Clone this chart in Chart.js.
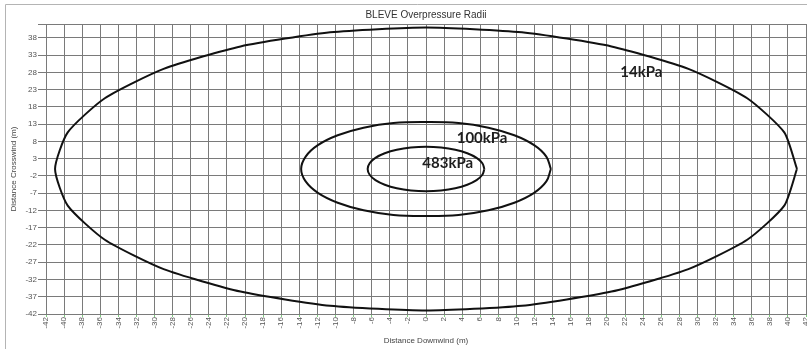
<!DOCTYPE html>
<html>
<head>
<meta charset="utf-8">
<title>BLEVE Overpressure Radii</title>
<script src="https://cdn.jsdelivr.net/npm/chart.js@4.4.1/dist/chart.umd.min.js"></script>
<style>
    html, body { margin: 0; padding: 0; background: #fff; }
    #wrap { width: 807px; height: 349px; overflow: hidden; position: relative; }
    canvas { display: block; }
</style>
</head>
<body>
<div id="wrap"><canvas id="chart-bleve" width="830" height="349"></canvas></div>
<script>
// BLEVE overpressure radii contours
const CHART_TITLE = 'BLEVE Overpressure Radii';
const X_TITLE = 'Distance Downwind (m)';
const Y_TITLE = 'Distance Crosswind (m)';

// 14 kPa contour
const r14X = [41, 39.6, 35.5, 29, 20.5, 10.6, 0, -10.6, -20.5, -29, -35.5, -39.6, -41, -39.6, -35.5, -29, -20.5, -10.6, 0, 10.6, 20.5, 29, 35.5, 39.6, 41];
const r14Y = [0, 10.6, 20.5, 29, 35.5, 39.6, 41, 39.6, 35.5, 29, 20.5, 10.6, 0, -10.6, -20.5, -29, -35.5, -39.6, -41, -39.6, -35.5, -29, -20.5, -10.6, 0];

// 100 kPa contour
const r100X = [13.8, 13.3, 11.95, 9.76, 6.9, 3.6, 0, -3.6, -6.9, -9.76, -11.95, -13.3, -13.8, -13.3, -11.95, -9.76, -6.9, -3.6, 0, 3.6, 6.9, 9.76, 11.95, 13.3, 13.8];
const r100Y = [0, 3.6, 6.9, 9.76, 11.95, 13.3, 13.6, 13.3, 11.95, 9.76, 6.9, 3.6, 0, -3.6, -6.9, -9.76, -11.95, -13.3, -13.6, -13.3, -11.95, -9.76, -6.9, -3.6, 0];

// 483 kPa contour
const r483X = [6.45, 6.23, 5.59, 4.56, 3.23, 1.67, 0, -1.67, -3.23, -4.56, -5.59, -6.23, -6.45, -6.23, -5.59, -4.56, -3.23, -1.67, 0, 1.67, 3.23, 4.56, 5.59, 6.23, 6.45];
const r483Y = [0, 1.67, 3.23, 4.56, 5.59, 6.23, 6.45, 6.23, 5.59, 4.56, 3.23, 1.67, 0, -1.67, -3.23, -4.56, -5.59, -6.23, -6.45, -6.23, -5.59, -4.56, -3.23, -1.67, 0];

const contourNames = ['14kPa', '100kPa', '483kPa'];
const labelX = [23.8, 6.2, 2.4];
const labelY = [28.2, 9.1, 1.9];

const yTickValues = [-42, -37, -32, -27, -22, -17, -12, -7, -2, 3, 8, 13, 18, 23, 28, 33, 38];

const toPoints = (xs, ys) => xs.map((x, i) => ({ x, y: ys[i] }));

const frameAndTitle = {
    id: 'frameAndTitle',
    beforeDraw(chart) {
        const c = chart.ctx;
        c.save();
        c.strokeStyle = '#b4b4b4';
        c.lineWidth = 1;
        c.beginPath();
        c.moveTo(5.5, 349);
        c.lineTo(5.5, 4.5);
        c.lineTo(830, 4.5);
        c.stroke();
        c.fillStyle = '#333';
        c.font = '10px "Liberation Sans", Arial, sans-serif';
        c.textAlign = 'center';
        c.textBaseline = 'middle';
        const xs = chart.scales.x;
        c.fillText(CHART_TITLE, (xs.left + xs.right) / 2, 15);
        c.restore();
    },
};

const contourLabels = {
    id: 'contourLabels',
    afterDatasetsDraw(chart) {
        const c = chart.ctx;
        const xs = chart.scales.x, ys = chart.scales.y;
        c.save();
        c.fillStyle = '#1e1e1e';
        c.font = 'bold 15px Lato, "Open Sans", sans-serif';
        c.textAlign = 'center';
        c.textBaseline = 'middle';
        contourNames.forEach((name, i) => {
            c.fillText(name, xs.getPixelForValue(labelX[i]), ys.getPixelForValue(labelY[i]) + 1);
        });
        c.restore();
    },
};

const tickFont = { family: '"Liberation Sans", Arial, sans-serif', size: 8 };
const GRID = '#7a7a7a';

new Chart(document.getElementById('chart-bleve').getContext('2d'), {
    type: 'scatter',
    data: {
        datasets: [
            { label: contourNames[0], data: toPoints(r14X, r14Y), showLine: true, tension: 0.2, borderColor: '#111', borderWidth: 2, pointRadius: 0 },
            { label: contourNames[1], data: toPoints(r100X, r100Y), showLine: true, tension: 0.4, borderColor: '#111', borderWidth: 2, pointRadius: 0 },
            { label: contourNames[2], data: toPoints(r483X, r483Y), showLine: true, tension: 0.4, borderColor: '#111', borderWidth: 2, pointRadius: 0 },
        ],
    },
    plugins: [frameAndTitle, contourLabels],
    options: {
        responsive: false,
        animation: false,
        layout: { padding: { top: 24, right: 24, bottom: 0, left: 9 } },
        plugins: {
            legend: { display: false },
            tooltip: { enabled: false },
        },
        scales: {
            x: {
                type: 'linear',
                min: -42,
                max: 42,
                afterFit: s => { s.height = 35; },
                ticks: {
                    stepSize: 2,
                    autoSkip: false,
                    minRotation: 90,
                    maxRotation: 90,
                    padding: 0,
                    color: '#555',
                    font: tickFont,
                },
                grid: { color: GRID, lineWidth: 1, tickLength: 3, tickColor: '#7ccf7c' },
                border: { color: GRID },
                title: { display: true, text: X_TITLE, color: '#444', font: tickFont, padding: { top: 0, bottom: 3 } },
            },
            y: {
                type: 'linear',
                min: -42,
                max: 42,
                afterFit: s => { s.width = 37; },
                afterBuildTicks: s => {
                    s.ticks = yTickValues.concat([42]).map(v => ({ value: v }));
                },
                ticks: {
                    padding: 1,
                    color: '#555',
                    font: tickFont,
                    callback: v => (v === 42 ? '' : v),
                },
                grid: { color: GRID, lineWidth: 1, tickLength: 8, tickColor: GRID },
                border: { color: GRID },
                title: { display: true, text: Y_TITLE, color: '#444', font: tickFont, padding: { top: 0, bottom: 4 } },
            },
        },
    },
});
</script>
</body>
</html>
